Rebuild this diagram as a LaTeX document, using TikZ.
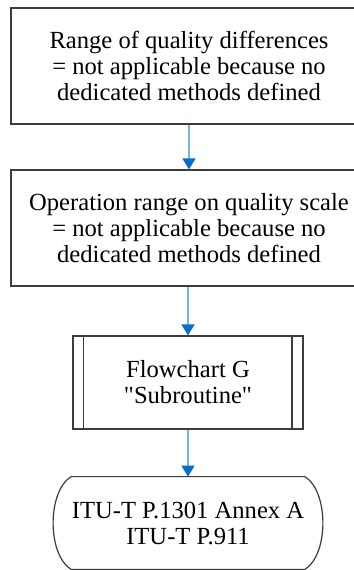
\documentclass[tikz,border=0pt]{standalone}
\usepackage{fontspec}
\setmainfont{Liberation Serif}
\usetikzlibrary{arrows.meta}
\definecolor{linkblue}{HTML}{72B4E6}
\definecolor{tipblue}{HTML}{0A6EC4}
\definecolor{edge}{HTML}{3C3C3C}
\tikzset{
  boxnode/.style={draw=edge, line width=0.6pt, align=center, inner sep=0pt,
    font=\fontsize{12.3}{13}\selectfont},
  txtnode/.style={align=center, inner sep=0pt, font=\fontsize{12.3}{13}\selectfont},
  link/.style={draw=linkblue, line width=0.75pt,
    -{Triangle[width=6.5pt,length=5.5pt,color=tipblue]}},
  shapeline/.style={draw=edge, line width=0.6pt}
}
\begin{document}
\begin{tikzpicture}[x=0.5pt,y=-0.5pt]
\clip (0,0) rectangle (354,570);
\fill[white] (0,0) rectangle (354,570);
\node[boxnode, minimum width=178pt, minimum height=58pt] (b1) at (189,66)
  {Range of quality differences\\= not applicable because no\\dedicated methods defined};
\node[boxnode, minimum width=178pt, minimum height=58pt] (b2) at (189,228)
  {Operation range on quality scale\\= not applicable because no\\dedicated methods defined};
\node[boxnode, minimum width=115pt, minimum height=46.5pt] (sub) at (188,382.5)
  {Flowchart G\\\textquotedbl Subroutine\textquotedbl};
\draw[shapeline] ([xshift=5.75pt]sub.north west) -- ([xshift=5.75pt]sub.south west);
\draw[shapeline] ([xshift=-5.75pt]sub.north east) -- ([xshift=-5.75pt]sub.south east);
\node[txtnode, minimum width=116.5pt, minimum height=46pt] (term) at (188,523)
  {ITU-T P.1301 Annex A\\ITU-T P.911};
\draw[shapeline] (term.north west) -- (term.north east)
  .. controls +(24,15) and +(24,-15) .. (term.south east)
  -- (term.south west)
  .. controls +(-24,-15) and +(-24,15) .. (term.north west) -- cycle;
\draw[link] (b1.south -| 189,0) -- (b2.north -| 189,0);
\draw[link] (b2.south -| 188,0) -- (sub.north);
\draw[link] (sub.south) -- (term.north);
\end{tikzpicture}
\end{document}
